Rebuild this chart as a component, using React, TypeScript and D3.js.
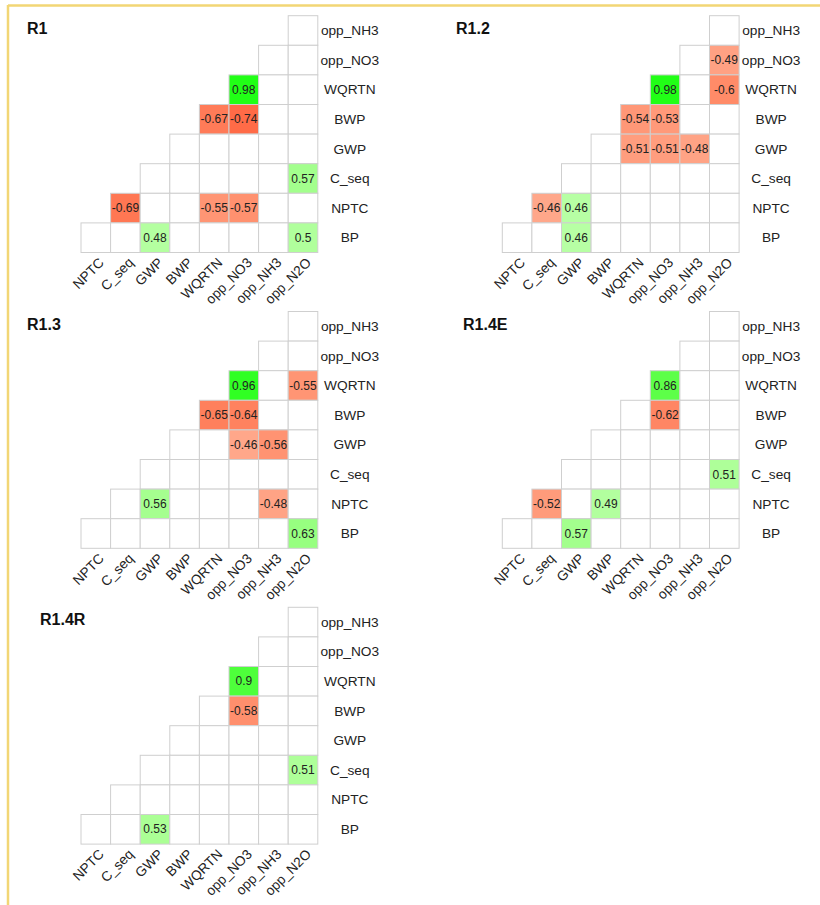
import * as React from "react";
import { interpolateLab, scaleBand, scaleLinear } from "d3";

const columns = ["NPTC", "C_seq", "GWP", "BWP", "WQRTN", "opp_NO3", "opp_NH3", "opp_N2O"];
const rows = ["opp_NH3", "opp_NO3", "WQRTN", "BWP", "GWP", "C_seq", "NPTC", "BP"];

type Cell = [string, string, number]; // [row, column, r]

const r1: Cell[] = [
  ["WQRTN", "opp_NO3", 0.98],
  ["BWP", "WQRTN", -0.67],
  ["BWP", "opp_NO3", -0.74],
  ["C_seq", "opp_N2O", 0.57],
  ["NPTC", "C_seq", -0.69],
  ["NPTC", "WQRTN", -0.55],
  ["NPTC", "opp_NO3", -0.57],
  ["BP", "GWP", 0.48],
  ["BP", "opp_N2O", 0.5],
];

const r12: Cell[] = [
  ["opp_NO3", "opp_N2O", -0.49],
  ["WQRTN", "opp_NO3", 0.98],
  ["WQRTN", "opp_N2O", -0.6],
  ["BWP", "WQRTN", -0.54],
  ["BWP", "opp_NO3", -0.53],
  ["GWP", "WQRTN", -0.51],
  ["GWP", "opp_NO3", -0.51],
  ["GWP", "opp_NH3", -0.48],
  ["NPTC", "C_seq", -0.46],
  ["NPTC", "GWP", 0.46],
  ["BP", "GWP", 0.46],
];

const r13: Cell[] = [
  ["WQRTN", "opp_NO3", 0.96],
  ["WQRTN", "opp_N2O", -0.55],
  ["BWP", "WQRTN", -0.65],
  ["BWP", "opp_NO3", -0.64],
  ["GWP", "opp_NO3", -0.46],
  ["GWP", "opp_NH3", -0.56],
  ["NPTC", "GWP", 0.56],
  ["NPTC", "opp_NH3", -0.48],
  ["BP", "opp_N2O", 0.63],
];

const r14e: Cell[] = [
  ["WQRTN", "opp_NO3", 0.86],
  ["BWP", "opp_NO3", -0.62],
  ["C_seq", "opp_N2O", 0.51],
  ["NPTC", "C_seq", -0.52],
  ["NPTC", "BWP", 0.49],
  ["BP", "GWP", 0.57],
];

const r14r: Cell[] = [
  ["WQRTN", "opp_NO3", 0.9],
  ["BWP", "opp_NO3", -0.58],
  ["C_seq", "opp_N2O", 0.51],
  ["BP", "GWP", 0.53],
];

const titles = ["R1", "R1.2", "R1.3", "R1.4E", "R1.4R"];
const panelData = [r1, r12, r13, r14e, r14r];

// layout: grid top-left and title offset for each panel
const layout = [
  { x: 81, y: 15.7, tx: 27 },
  { x: 502.3, y: 15.7, tx: 456 },
  { x: 81, y: 311.5, tx: 27 },
  { x: 502.3, y: 311.5, tx: 463 },
  { x: 81, y: 607.3, tx: 40 },
];

const CELL = 29.6;
const FONT = "'Liberation Sans', Arial, sans-serif";

const color = scaleLinear<string>()
  .domain([-1, 0, 1])
  .range(["#ff0000", "#ffffff", "#00ff00"])
  .interpolate(interpolateLab);

function CorrPanel({ title, data, x, y, tx }) {
  const size = CELL * columns.length;
  const scaleX = scaleBand().domain(columns).range([0, size]);
  const scaleY = scaleBand().domain(rows).range([0, size]);
  const lookup = new Map(data.map(([r, c, v]) => [`${r}|${c}`, v]));

  const cells = [];
  rows.forEach((row, ri) => {
    columns.forEach((col, ci) => {
      if (ci < columns.length - 1 - ri) return;
      cells.push({ row, col, v: lookup.get(`${row}|${col}`) });
    });
  });

  return (
    <g transform={`translate(${x}, ${y})`}>
      <text
        x={tx - x}
        y={18}
        fontFamily={FONT}
        fontWeight="bold"
        fontSize={16}
        fill="#111"
      >
        {title}
      </text>
      {cells.map(({ row, col, v }) => (
        <rect
          key={`${row}-${col}`}
          x={scaleX(col)}
          y={scaleY(row)}
          width={scaleX.bandwidth()}
          height={scaleY.bandwidth()}
          fill={v === undefined ? "#ffffff" : color(v)}
          stroke="#cfcfcf"
          strokeWidth={1}
        />
      ))}
      {cells
        .filter((d) => d.v !== undefined)
        .map(({ row, col, v }) => (
          <text
            key={`t-${row}-${col}`}
            x={scaleX(col) + scaleX.bandwidth() / 2}
            y={scaleY(row) + scaleY.bandwidth() / 2}
            dy="0.35em"
            textAnchor="middle"
            fontFamily={FONT}
            fontSize={12}
            fill="#222"
          >
            {v}
          </text>
        ))}
      {rows.map((row) => (
        <text
          key={`r-${row}`}
          x={size + 32}
          y={scaleY(row) + scaleY.bandwidth() / 2}
          dy="0.35em"
          textAnchor="middle"
          fontFamily={FONT}
          fontSize={13.7}
          fill="#222"
        >
          {row}
        </text>
      ))}
      {columns.map((col) => (
        <text
          key={`c-${col}`}
          transform={`translate(${scaleX(col) + scaleX.bandwidth() / 2 + 2}, ${size + 4}) rotate(-45)`}
          dy="0.72em"
          textAnchor="end"
          fontFamily={FONT}
          fontSize={13.7}
          fill="#222"
        >
          {col}
        </text>
      ))}
    </g>
  );
}

export default function App() {
  return (
    <svg
      width={820}
      height={905}
      style={{ position: "absolute", left: 0, top: 0, background: "#fff" }}
    >
      <line x1={8} y1={5.5} x2={820} y2={5.5} stroke="#f2d675" strokeWidth={2.5} />
      <line x1={8} y1={5} x2={8} y2={905} stroke="#f2d675" strokeWidth={2.5} />
      {titles.map((t, i) => (
        <CorrPanel key={t} title={t} data={panelData[i]} {...layout[i]} />
      ))}
    </svg>
  );
}
